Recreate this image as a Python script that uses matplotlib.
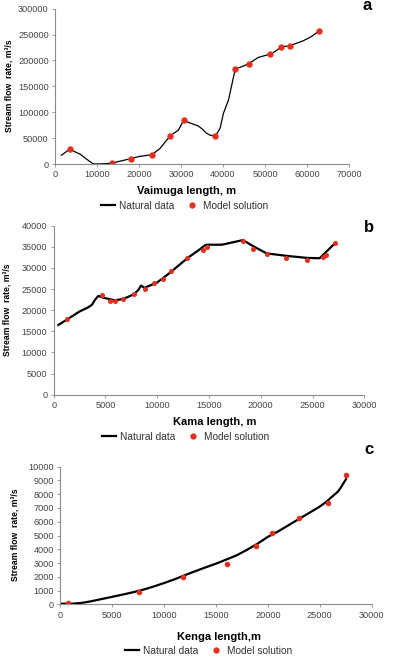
import matplotlib
matplotlib.use("Agg")
import matplotlib.pyplot as plt
from matplotlib.lines import Line2D

plt.rcParams["font.family"] = ["Liberation Sans", "DejaVu Sans"]

# ── Panel a: Vaimuga ──
a_line_x = [1500, 3571, 5000, 6000, 7500, 9000, 9500, 12000, 13650, 15500, 18000, 20000,
            23100, 25000, 27460, 29400, 30640, 31400, 34100, 35000, 36100, 37000, 38200,
            39300, 40100, 41300, 42930, 44500, 46100, 48400, 51270, 52500, 53800, 55870,
            59100, 61000, 62930]
a_line_y = [16800, 29000, 22500, 19000, 9500, 800, 0, 500, 1900, 5500, 10300, 14500,
            18000, 30000, 54700, 65600, 84900, 81500, 73500, 68000, 59200, 55500, 54000,
            69000, 97800, 123500, 184000, 188000, 193700, 205900, 212400, 218000, 225900,
            228400, 238000, 246000, 257300]
a_dot_x = [3571, 13650, 18020, 23100, 27460, 30640, 38200, 42930, 46110, 51270, 53810, 55870, 62930]
a_dot_y = [28960, 1900, 10300, 18000, 54700, 84900, 54000, 184000, 193700, 212400, 225900, 228400, 257300]

# ── Panel b: Kama ──
b_line_x = [445, 1257, 2500, 3350, 3700, 4000, 4310, 4800, 5900, 6700, 7700, 8180, 8440,
            8760, 9960, 11250, 12900, 14000, 14630, 14800, 16250, 18280, 19300, 20560,
            22530, 24470, 25690, 27170]
b_line_y = [16510, 17750, 19700, 20700, 21300, 22500, 23380, 22950, 22350, 22650, 23700,
            24800, 25820, 25300, 26500, 28900, 32300, 34200, 35380, 35500, 35500, 36600,
            35100, 33450, 32850, 32380, 32300, 35860]
b_dot_x = [1257, 4640, 5445, 5930, 6730, 7770, 8860, 9730, 10600, 11310, 12920, 14410, 14830,
           18280, 19250, 20560, 22470, 24470, 26010, 26300, 27170]
b_dot_y = [17930, 23690, 22270, 22190, 22590, 23850, 25110, 26380, 27330, 29370, 32380, 34270,
           35060, 36480, 34510, 33400, 32450, 31980, 32620, 33090, 35860]

# ── Panel c: Kenga ──
c_line_x = [160, 1000, 2000, 3000, 4000, 5000, 6000, 7000, 8000, 9000, 10000, 11000, 12000,
            13000, 14000, 15000, 16000, 17000, 18000, 19000, 20000, 21000, 22000, 23000,
            24000, 25000, 25640, 26000, 26760, 27000, 27530]
c_line_y = [40, 40, 90, 220, 380, 540, 700, 870, 1060, 1290, 1540, 1810, 2110, 2400, 2680,
            2950, 3250, 3560, 3960, 4400, 4900, 5300, 5750, 6200, 6650, 7100, 7450, 7700,
            8200, 8450, 9100]
c_dot_x = [800, 7630, 11800, 16060, 18910, 20420, 23010, 25800, 27530]
c_dot_y = [73, 894, 1960, 2930, 4260, 5210, 6300, 7360, 9400]

RED = "#e5301f"
GRAY = "#8c8c8c"
TICK = "#444444"
W, H = 397, 657

fig = plt.figure(figsize=(W / 100, H / 100), dpi=100)


def px_axes(left, right, top, bottom):
    return fig.add_axes([left / W, 1 - bottom / H, (right - left) / W, (bottom - top) / H])


def style(ax, xmax, xstep, ymax, ystep):
    ax.set_xlim(0, xmax)
    ax.set_ylim(0, ymax)
    ax.set_xticks(range(0, xmax + 1, xstep))
    ax.set_yticks(range(0, ymax + 1, ystep))
    for s in ["top", "right"]:
        ax.spines[s].set_visible(False)
    for s in ["left", "bottom"]:
        ax.spines[s].set_color(GRAY)
        ax.spines[s].set_linewidth(0.8)
    ax.tick_params(labelsize=6.6, colors=GRAY, labelcolor=TICK, length=2.5, width=0.6, pad=2)


def legend(cx, cy):
    h = [Line2D([], [], color="black", lw=1.6),
         Line2D([], [], color=RED, marker="o", ls="none", markersize=3.5)]
    fig.legend(h, ["Natural data", "Model solution"], loc="center",
               bbox_to_anchor=(cx / W, 1 - cy / H), ncol=2, frameon=False,
               fontsize=7.3, labelcolor="#333333", handlelength=1.3,
               handletextpad=0.45, columnspacing=1.1, borderpad=0)


ylabel = "Stream flow  rate, m³/s"

# (a)
ax = px_axes(55, 349, 8.7, 164)
ax.plot(a_line_x, a_line_y, color="black", lw=0.9)
ax.plot(a_dot_x, a_dot_y, "o", color=RED, markersize=3.6)
style(ax, 70000, 10000, 300000, 50000)
fig.text(187 / W, 1 - 191 / H, "Vaimuga length, m", ha="center", va="center",
         fontsize=8, fontweight="bold")
fig.text(9 / W, 1 - 86 / H, ylabel, rotation=90, ha="center", va="center",
         fontsize=6.2, fontweight="bold")
fig.text(367 / W, 1 - 6 / H, "a", ha="center", va="center", fontsize=12, fontweight="bold")
legend(185, 206)

# (b)
ax = px_axes(53.7, 364.3, 225.7, 394.7)
ax.plot(b_line_x, b_line_y, color="black", lw=1.6)
ax.plot(b_dot_x, b_dot_y, "o", color=RED, markersize=2.6)
style(ax, 30000, 5000, 40000, 5000)
fig.text(215 / W, 1 - 422 / H, "Kama length, m", ha="center", va="center",
         fontsize=8, fontweight="bold")
fig.text(7 / W, 1 - 310 / H, ylabel, rotation=90, ha="center", va="center",
         fontsize=6.2, fontweight="bold")
fig.text(369 / W, 1 - 228 / H, "b", ha="center", va="center", fontsize=12, fontweight="bold")
legend(186, 437)

# (c)
ax = px_axes(60, 371.7, 466.7, 604.3)
ax.plot(c_line_x, c_line_y, color="black", lw=1.6)
ax.plot(c_dot_x, c_dot_y, "o", color=RED, markersize=3.0)
style(ax, 30000, 5000, 10000, 1000)
fig.text(219 / W, 1 - 637 / H, "Kenga length,m", ha="center", va="center",
         fontsize=8, fontweight="bold")
fig.text(15 / W, 1 - 535 / H, ylabel, rotation=90, ha="center", va="center",
         fontsize=6.2, fontweight="bold")
fig.text(369 / W, 1 - 449 / H, "c", ha="center", va="center", fontsize=12, fontweight="bold")
legend(209, 651)

fig.savefig("out.png", dpi=100)
